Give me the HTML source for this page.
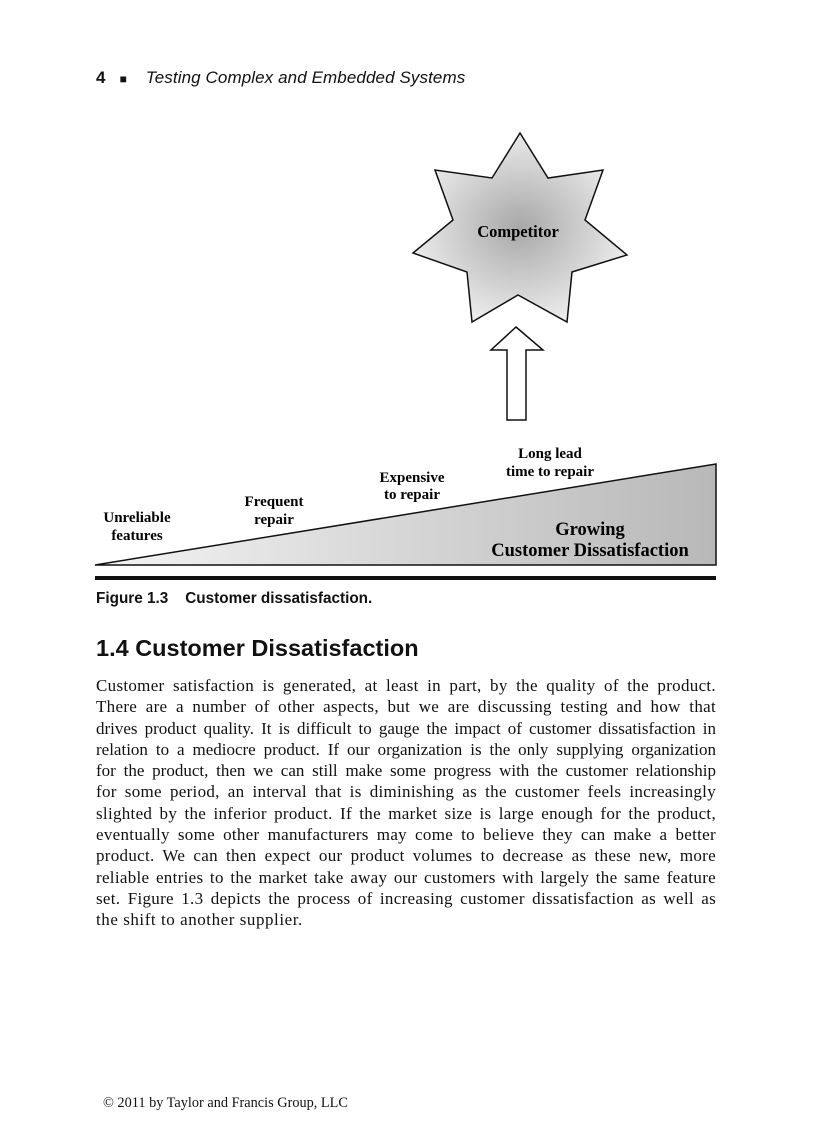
<!DOCTYPE html>
<html><head><meta charset="utf-8"><style>
body{margin:0;background:#fff;}
.page{position:relative;width:816px;height:1123px;overflow:hidden;font-family:"Liberation Serif",serif;color:#111;}
.hdr{position:absolute;left:96px;top:68px;font-family:"Liberation Sans",sans-serif;font-size:17px;}
.body{position:absolute;left:96px;top:675px;width:620px;font-size:17px;line-height:21.3px;letter-spacing:0.3px;}
.body div{text-align:justify;text-align-last:justify;white-space:nowrap;}
.body div.t{letter-spacing:0;}
.body div.l{text-align-last:left;letter-spacing:0.55px;}
.cap{position:absolute;left:96px;top:590px;font-family:"Liberation Sans",sans-serif;font-weight:bold;font-size:15.3px;}
h2{position:absolute;left:96px;top:635px;margin:0;font-family:"Liberation Sans",sans-serif;font-size:23.5px;font-weight:bold;}
.foot{position:absolute;left:103px;top:1095px;font-size:14.3px;}
</style></head><body><div class="page">
<div class="hdr"><b>4</b> &nbsp; <span style="font-size:12px">■</span> &nbsp;&nbsp; <i style="letter-spacing:0.1px">Testing Complex and Embedded Systems</i></div>
<svg width="816" height="600" style="position:absolute;left:0;top:0">
<defs><radialGradient id="g" cx="50%" cy="50%" r="55%"><stop offset="0" stop-color="#a8a8a8"/><stop offset="1" stop-color="#f0f0f0"/></radialGradient>
<linearGradient id="t" x1="0" x2="1"><stop offset="0" stop-color="#f4f4f4"/><stop offset="1" stop-color="#b8b8b8"/></linearGradient></defs>
<polygon points="520,133 548,178 603,170 585,220 627,255 572,272 567,322 518,295 472,322 467,272 413,253 453,220 435,170 492,178" fill="url(#g)" stroke="#111" stroke-width="1.5"/>
<text x="518" y="237" text-anchor="middle" font-family="Liberation Serif" font-weight="bold" font-size="16.5">Competitor</text>
<polygon points="516,327 543,350 526,350 526,420 507,420 507,350 491,350" fill="#fff" stroke="#111" stroke-width="1.5"/>
<polygon points="95,565 716,464 716,565" fill="url(#t)" stroke="#111" stroke-width="1.5"/>
<rect x="95" y="576" width="621" height="4" fill="#111"/>
<g font-family="Liberation Serif" font-weight="bold" font-size="15" text-anchor="middle">
<text x="137" y="522">Unreliable</text><text x="137" y="540">features</text>
<text x="274" y="506">Frequent</text><text x="274" y="524">repair</text>
<text x="412" y="482">Expensive</text><text x="412" y="499">to repair</text>
<text x="550" y="458">Long lead</text><text x="550" y="476">time to repair</text>
<text x="590" y="535" font-size="18.5">Growing</text><text x="590" y="556" font-size="18.5">Customer Dissatisfaction</text>
</g></svg>
<div class="cap">Figure 1.3 &nbsp;&nbsp; Customer dissatisfaction.</div>
<h2>1.4 Customer Dissatisfaction</h2>
<div class="body">
<div>Customer satisfaction is generated, at least in part, by the quality of the product.</div>
<div>There are a number of other aspects, but we are discussing testing and how that</div>
<div class="t">drives product quality. It is difficult to gauge the impact of customer dissatisfaction in</div>
<div class="t">relation to a mediocre product. If our organization is the only supplying organization</div>
<div class="t">for the product, then we can still make some progress with the customer relationship</div>
<div>for some period, an interval that is diminishing as the customer feels increasingly</div>
<div>slighted by the inferior product. If the market size is large enough for the product,</div>
<div>eventually some other manufacturers may come to believe they can make a better</div>
<div>product. We can then expect our product volumes to decrease as these new, more</div>
<div>reliable entries to the market take away our customers with largely the same feature</div>
<div>set. Figure 1.3 depicts the process of increasing customer dissatisfaction as well as</div>
<div class="l">the shift to another supplier.</div>
</div>
<div class="foot">© 2011 by Taylor and Francis Group, LLC</div>
</div></body></html>
